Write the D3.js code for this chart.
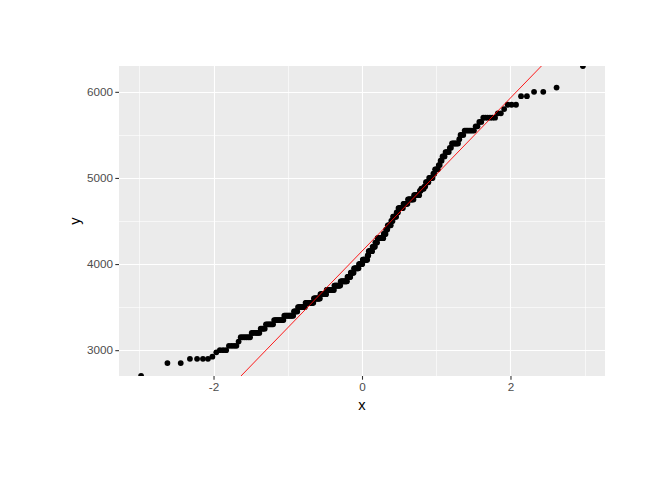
<!DOCTYPE html>
<html>
<head>
<meta charset="utf-8">
<script src="https://cdn.jsdelivr.net/npm/d3@7"></script>
<style>
  body { margin: 0; background: #fff; }
  svg { display: block; }
</style>
</head>
<body>
<div id="chart"></div>
<script>
// sample values (sorted) and how many times each occurs
const massValues = [2700, 2850, 2900, 2925, 2975, 3000, 3050, 3100, 3150, 3200,
  3250, 3300, 3350, 3400, 3450, 3500, 3550, 3600, 3650, 3700,
  3750, 3800, 3850, 3900, 3950, 4000, 4050, 4100, 4150, 4200,
  4250, 4300, 4350, 4400, 4450, 4500, 4550, 4600, 4650, 4700,
  4750, 4800, 4850, 4875, 4900, 4950, 5000, 5050, 5100, 5150,
  5200, 5250, 5300, 5350, 5400, 5450, 5500, 5550, 5600, 5650,
  5700, 5750, 5800, 5850, 5950, 6000, 6050, 6300];
const massCounts = [1, 2, 4, 1, 1, 3, 4, 1, 6, 6,
  4, 7, 10, 11, 5, 10, 12, 10, 10, 13,
  11, 12, 6, 6, 9, 7, 9, 2, 7, 5,
  4, 11, 4, 3, 6, 3, 6, 3, 8, 7,
  9, 8, 2, 4, 2, 4, 5, 2, 4, 2,
  2, 3, 4, 2, 6, 1, 3, 7, 2, 2,
  6, 2, 1, 3, 2, 2, 1, 1];

const xTicks = [-2, 0, 2];
const xMinor = [-3, -1, 1, 3];
const yTicks = [3000, 4000, 5000, 6000];
const yMinor = [3500, 4500, 5500];
const yLimits = [2700, 6300];

// inverse normal cdf (Acklam)
function qnorm(p) {
  const a = [-3.969683028665376e+01, 2.209460984245205e+02, -2.759285104469687e+02,
    1.383577518672690e+02, -3.066479806614716e+01, 2.506628277459239e+00];
  const b = [-5.447609879822406e+01, 1.615858368580409e+02, -1.556989798598866e+02,
    6.680131188771972e+01, -1.328068155288572e+01];
  const c = [-7.784894002430293e-03, -3.223964580411365e-01, -2.400758277161838e+00,
    -2.549732539343734e+00, 4.374664141464968e+00, 2.938163982698783e+00];
  const d = [7.784695709041462e-03, 3.224671290700398e-01, 2.445134137142996e+00,
    3.754408661907416e+00];
  const lo = 0.02425, hi = 1 - lo;
  let q, r;
  if (p < lo) {
    q = Math.sqrt(-2 * Math.log(p));
    return (((((c[0]*q+c[1])*q+c[2])*q+c[3])*q+c[4])*q+c[5]) /
      ((((d[0]*q+d[1])*q+d[2])*q+d[3])*q+1);
  }
  if (p > hi) {
    q = Math.sqrt(-2 * Math.log(1 - p));
    return -(((((c[0]*q+c[1])*q+c[2])*q+c[3])*q+c[4])*q+c[5]) /
      ((((d[0]*q+d[1])*q+d[2])*q+d[3])*q+1);
  }
  q = p - 0.5; r = q * q;
  return (((((a[0]*r+a[1])*r+a[2])*r+a[3])*r+a[4])*r+a[5])*q /
    (((((b[0]*r+b[1])*r+b[2])*r+b[3])*r+b[4])*r+1);
}

// expand runs into sample, pair with theoretical quantiles
const sample = [];
massValues.forEach((v, i) => { for (let k = 0; k < massCounts[i]; k++) sample.push(v); });
const n = sample.length;
const points = sample.map((v, i) => ({ x: qnorm((i + 0.5) / n), y: v }));

// qq line through quartiles
const q1 = d3.quantile(sample, 0.25), q3 = d3.quantile(sample, 0.75);
const slope = (q3 - q1) / (qnorm(0.75) - qnorm(0.25));
const inter = q1 - slope * qnorm(0.25);
const xExt = d3.extent(points, d => d.x);

const width = 672, height = 480;
const panel = { left: 119, right: 605, top: 66, bottom: 376 };
const font = "'Liberation Sans', Arial, sans-serif";

const svg = d3.select("#chart").append("svg")
  .attr("width", width).attr("height", height)
  .style("font-family", font);

const pad = (xExt[1] - xExt[0]) * 0.05;
const x = d3.scaleLinear().domain([xExt[0] - pad, xExt[1] + pad]).range([panel.left, panel.right]);
const y = d3.scaleLinear().domain(yLimits).range([panel.bottom, panel.top]);

svg.append("defs").append("clipPath").attr("id", "clip")
  .append("rect")
  .attr("x", panel.left).attr("y", panel.top)
  .attr("width", panel.right - panel.left).attr("height", panel.bottom - panel.top);

svg.append("rect")
  .attr("x", panel.left).attr("y", panel.top)
  .attr("width", panel.right - panel.left).attr("height", panel.bottom - panel.top)
  .attr("fill", "#EBEBEB");

const grid = svg.append("g").attr("stroke", "#fff");
grid.selectAll(".xm").data(xMinor).enter().append("line")
  .attr("x1", d => Math.round(x(d)) + 0.5).attr("x2", d => Math.round(x(d)) + 0.5)
  .attr("y1", panel.top).attr("y2", panel.bottom).attr("stroke-width", 0.6);
grid.selectAll(".ym").data(yMinor).enter().append("line")
  .attr("y1", d => Math.round(y(d)) + 0.5).attr("y2", d => Math.round(y(d)) + 0.5)
  .attr("x1", panel.left).attr("x2", panel.right).attr("stroke-width", 0.6);
grid.selectAll(".xM").data(xTicks).enter().append("line")
  .attr("x1", d => Math.round(x(d)) + 0.5).attr("x2", d => Math.round(x(d)) + 0.5)
  .attr("y1", panel.top).attr("y2", panel.bottom).attr("stroke-width", 1.1);
grid.selectAll(".yM").data(yTicks).enter().append("line")
  .attr("y1", d => Math.round(y(d)) + 0.5).attr("y2", d => Math.round(y(d)) + 0.5)
  .attr("x1", panel.left).attr("x2", panel.right).attr("stroke-width", 1.1);

const plot = svg.append("g").attr("clip-path", "url(#clip)");

plot.selectAll("circle").data(points).enter().append("circle")
  .attr("cx", d => x(d.x))
  .attr("cy", d => y(d.y))
  .attr("r", 2.9)
  .attr("fill", "#000");

plot.append("line")
  .attr("x1", x(xExt[0])).attr("y1", y(inter + slope * xExt[0]))
  .attr("x2", x(xExt[1])).attr("y2", y(inter + slope * xExt[1]))
  .attr("stroke", "red").attr("stroke-width", 0.9);

// axes
const fmt = d => String(d);
const xAxis = svg.append("g")
  .attr("transform", `translate(0,${panel.bottom})`)
  .call(d3.axisBottom(x).tickValues(xTicks).tickFormat(fmt).tickSize(3.7).tickPadding(2.6));
const yAxis = svg.append("g")
  .attr("transform", `translate(${panel.left},0)`)
  .call(d3.axisLeft(y).tickValues(yTicks).tickFormat(fmt).tickSize(3.7).tickPadding(2.4));
[xAxis, yAxis].forEach(g => {
  g.select(".domain").remove();
  g.selectAll(".tick line").attr("stroke", "#333333").attr("stroke-width", 1.1);
  g.selectAll(".tick text").attr("fill", "#4D4D4D")
    .style("font-size", "11.7px").style("font-family", font);
});

svg.append("text")
  .attr("x", (panel.left + panel.right) / 2).attr("y", 410)
  .attr("text-anchor", "middle")
  .style("font-size", "14.7px")
  .text("x");

svg.append("text")
  .attr("transform", `translate(80,${(panel.top + panel.bottom) / 2}) rotate(-90)`)
  .attr("text-anchor", "middle")
  .style("font-size", "14.7px")
  .text("y");
</script>
</body>
</html>
